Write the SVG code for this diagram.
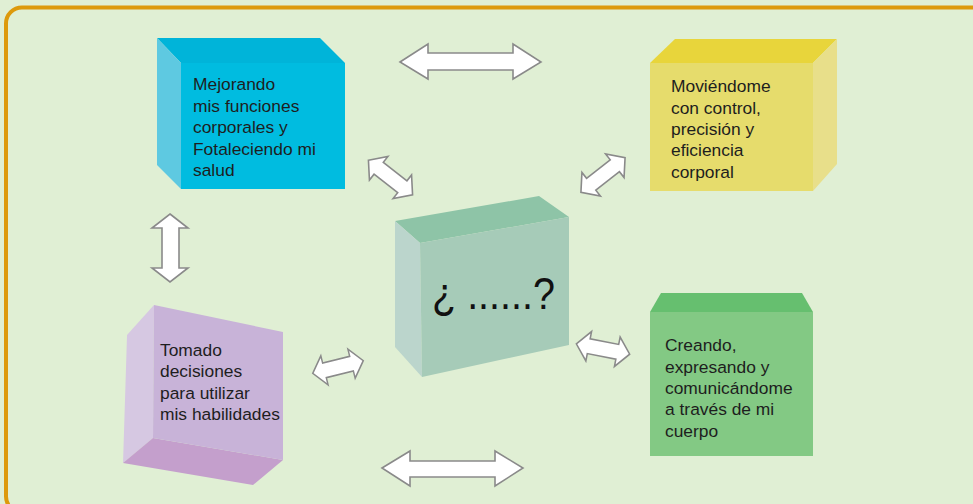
<svg xmlns="http://www.w3.org/2000/svg" xmlns:xlink="http://www.w3.org/1999/xlink" width="973" height="504" viewBox="0 0 973 504">
<style>
.lbl{font-family:"Liberation Sans",Arial,sans-serif;font-size:17.4px;fill:#1e1e1e}
.q{font-family:"Liberation Sans",Arial,sans-serif;font-size:44px;fill:#111}
.arr{fill:#fff;stroke:#8a8a8a;stroke-width:1.6;stroke-linejoin:miter}
</style>
<defs>
<path id="sa" d="M-28,0 L-15,-15 L-15,-7.5 L15,-7.5 L15,-15 L28,0 L15,15 L15,7.5 L-15,7.5 L-15,15 Z"/>
</defs>
<rect x="0" y="0" width="973" height="504" fill="#e0efd4"/>
<rect x="6" y="7.5" width="990" height="505" rx="16" ry="16" fill="none" stroke="#dd9a0c" stroke-width="4"/>

<g id="node-mejorando">
<polygon points="157,38 320,38 345,63 181,63" fill="#00b4d9"/>
<polygon points="157,38 181,63 181,189 157,165" fill="#5ec9e1"/>
<rect x="181" y="63" width="164" height="126" fill="#00bce0"/>
<text class="lbl"><tspan x="193" y="90">Mejorando</tspan><tspan x="193" y="111.5">mis funciones</tspan><tspan x="193" y="133">corporales y</tspan><tspan x="193" y="154.5">Fotaleciendo mi</tspan><tspan x="193" y="176">salud</tspan></text>
</g>

<g id="node-moviendome">
<polygon points="675,39 837,39 813,63 650,63" fill="#e8d53b"/>
<polygon points="813,63 837,39 837,164 813,191" fill="#e8df8a"/>
<rect x="650" y="63" width="163" height="128" fill="#e6dc6c"/>
<text class="lbl"><tspan x="671" y="92">Moviéndome</tspan><tspan x="671" y="113.5">con control,</tspan><tspan x="671" y="135">precisión y</tspan><tspan x="671" y="156">eficiencia</tspan><tspan x="671" y="177.5">corporal</tspan></text>
</g>

<g id="node-centro">
<polygon points="395,221 539,196 569,217 420,243" fill="#8ec4a7"/>
<polygon points="395,221 420,243 422,377 395,347" fill="#bbd5cc"/>
<polygon points="420,243 569,217 569,345 422,377" fill="#a6cbb8"/>
<text class="q" x="432" y="309" textLength="123" lengthAdjust="spacingAndGlyphs">¿ ......?</text>
</g>

<g id="node-tomado">
<polygon points="154,305 127,335 123,463 153,438" fill="#d6c8e2"/>
<polygon points="153,438 283,460 253,485 123,463" fill="#c49fcc"/>
<polygon points="154,305 283,332 283,460 153,438" fill="#c8b3d8"/>
<text class="lbl"><tspan x="160" y="356">Tomado</tspan><tspan x="160" y="377">decisiones</tspan><tspan x="160" y="398.5">para utilizar</tspan><tspan x="160" y="420">mis habilidades</tspan></text>
</g>

<g id="node-creando">
<polygon points="650,312 661,293 802,293 813,312" fill="#66bf6f"/>
<rect x="650" y="312" width="163" height="144" fill="#83c984"/>
<text class="lbl"><tspan x="665" y="351">Creando,</tspan><tspan x="665" y="372.5">expresando y</tspan><tspan x="665" y="393.5">comunicándome</tspan><tspan x="665" y="415">a través de mi</tspan><tspan x="665" y="437">cuerpo</tspan></text>
</g>

<g id="connectors">
<polygon class="arr" points="400,62 428,44 428,53 513,53 513,44 541,62 513,79 513,70 428,70 428,79"/>
<polygon class="arr" points="382,468 410,451 410,461 495,461 495,451 523,468 495,486 495,477 410,477 410,486"/>
<polygon class="arr" points="170,214 188,228 179,228 179,268 188,268 170,282 152,268 162,268 162,228 152,228"/>
<use xlink:href="#sa" class="arr" transform="translate(390.5,177.5) rotate(38)"/>
<use xlink:href="#sa" class="arr" transform="translate(603,175) rotate(-38)"/>
<use xlink:href="#sa" class="arr" transform="translate(338,367) rotate(-14) scale(0.93,1)"/>
<use xlink:href="#sa" class="arr" transform="translate(603,349) rotate(11) scale(0.97,1)"/>
</g>
</svg>
